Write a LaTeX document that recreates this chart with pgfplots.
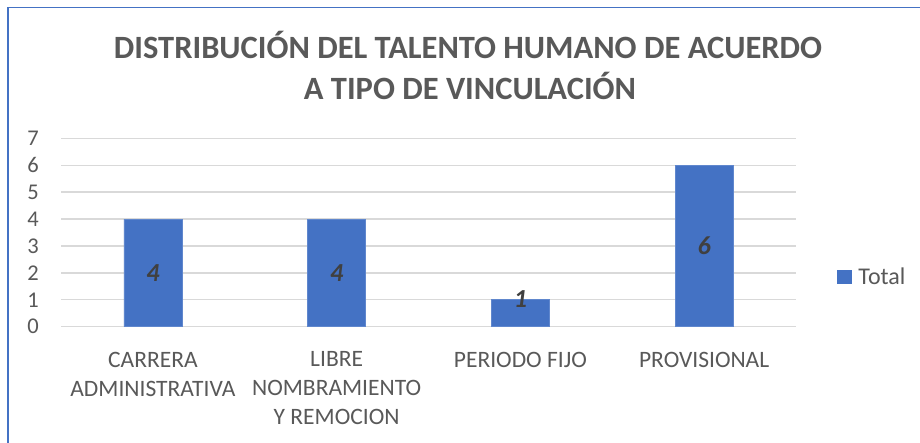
\documentclass[border=0pt]{standalone}
\usepackage{fontspec}
\setmainfont{Carlito}
\usepackage{pgfplots}
\pgfplotsset{compat=1.18}
\definecolor{barblue}{HTML}{4472C4}
\definecolor{gridgray}{HTML}{D9D9D9}
\definecolor{txtgray}{HTML}{595959}
\definecolor{lblgray}{HTML}{404040}
\begin{document}
\begin{tikzpicture}[x=1pt,y=1pt]
\useasboundingbox (0,0) rectangle (920,443);
\fill[white] (0,0) rectangle (920,443);
\draw[barblue, line width=1.5pt] (8,0) -- (8,435.7) -- (920,435.7);
\node[anchor=base, inner sep=0pt, text=txtgray, font=\fontsize{32.5}{41}\selectfont\bfseries] at (468,384.7) {DISTRIBUCIÓN DEL TALENTO HUMANO DE ACUERDO};
\node[anchor=base, inner sep=0pt, text=txtgray, font=\fontsize{32.5}{41}\selectfont\bfseries] at (470,343.7) {A TIPO DE VINCULACIÓN};
\begin{axis}[
  at={(61pt,116.3pt)}, anchor=south west,
  scale only axis, width=735pt, height=188.4pt,
  xmin=-0.5, xmax=3.5, ymin=0, ymax=7,
  axis line style={draw=none},
  major tick length=0pt,
  ymajorgrids, grid style={gridgray, line width=1.3pt},
  ytick={0,1,2,3,4,5,6,7},
  xtick={0,1,2,3},
  xticklabels={{CARRERA\\ADMINISTRATIVA},{LIBRE\\NOMBRAMIENTO\\Y REMOCION},{PERIODO FIJO},{PROVISIONAL}},
  /pgf/number format/assume math mode=true,
  yticklabel style={anchor=east, inner sep=0pt, xshift=-22pt, text=txtgray, font=\fontsize{22.5}{29}\selectfont},
  xticklabel style={anchor=north, align=center, inner sep=0pt, yshift=-25pt, text=txtgray, font=\fontsize{23.5}{29}\selectfont},
  legend style={at={(1.056,0.264)}, anchor=west, draw=none, fill=none, inner sep=0pt,
    font=\fontsize{24}{29}\selectfont, text=txtgray,
    /tikz/every even column/.append style={column sep=0pt}},
  legend image code/.code={\fill[barblue] (0pt,-6.5pt) rectangle (13.5pt,6.5pt);},
  legend cell align=left,
  clip=false,
]
\addplot[ybar, bar width=58pt, bar shift=0pt, fill=barblue, draw=barblue!85!white, line width=0.6pt]
  coordinates {(0,4) (1,4) (2,1) (3,6)};
\addlegendentry{\hspace{5pt}Total}
\addplot[draw=none, mark=none, forget plot,
  nodes near coords, point meta=explicit symbolic,
  every node near coord/.style={anchor=center, inner sep=0pt, text=lblgray, font=\fontsize{26}{30}\selectfont\bfseries\itshape}]
  coordinates {(0,2)[4] (1,2)[4] (2,1.03)[1] (3,3)[6]};
\end{axis}
\end{tikzpicture}
\end{document}
